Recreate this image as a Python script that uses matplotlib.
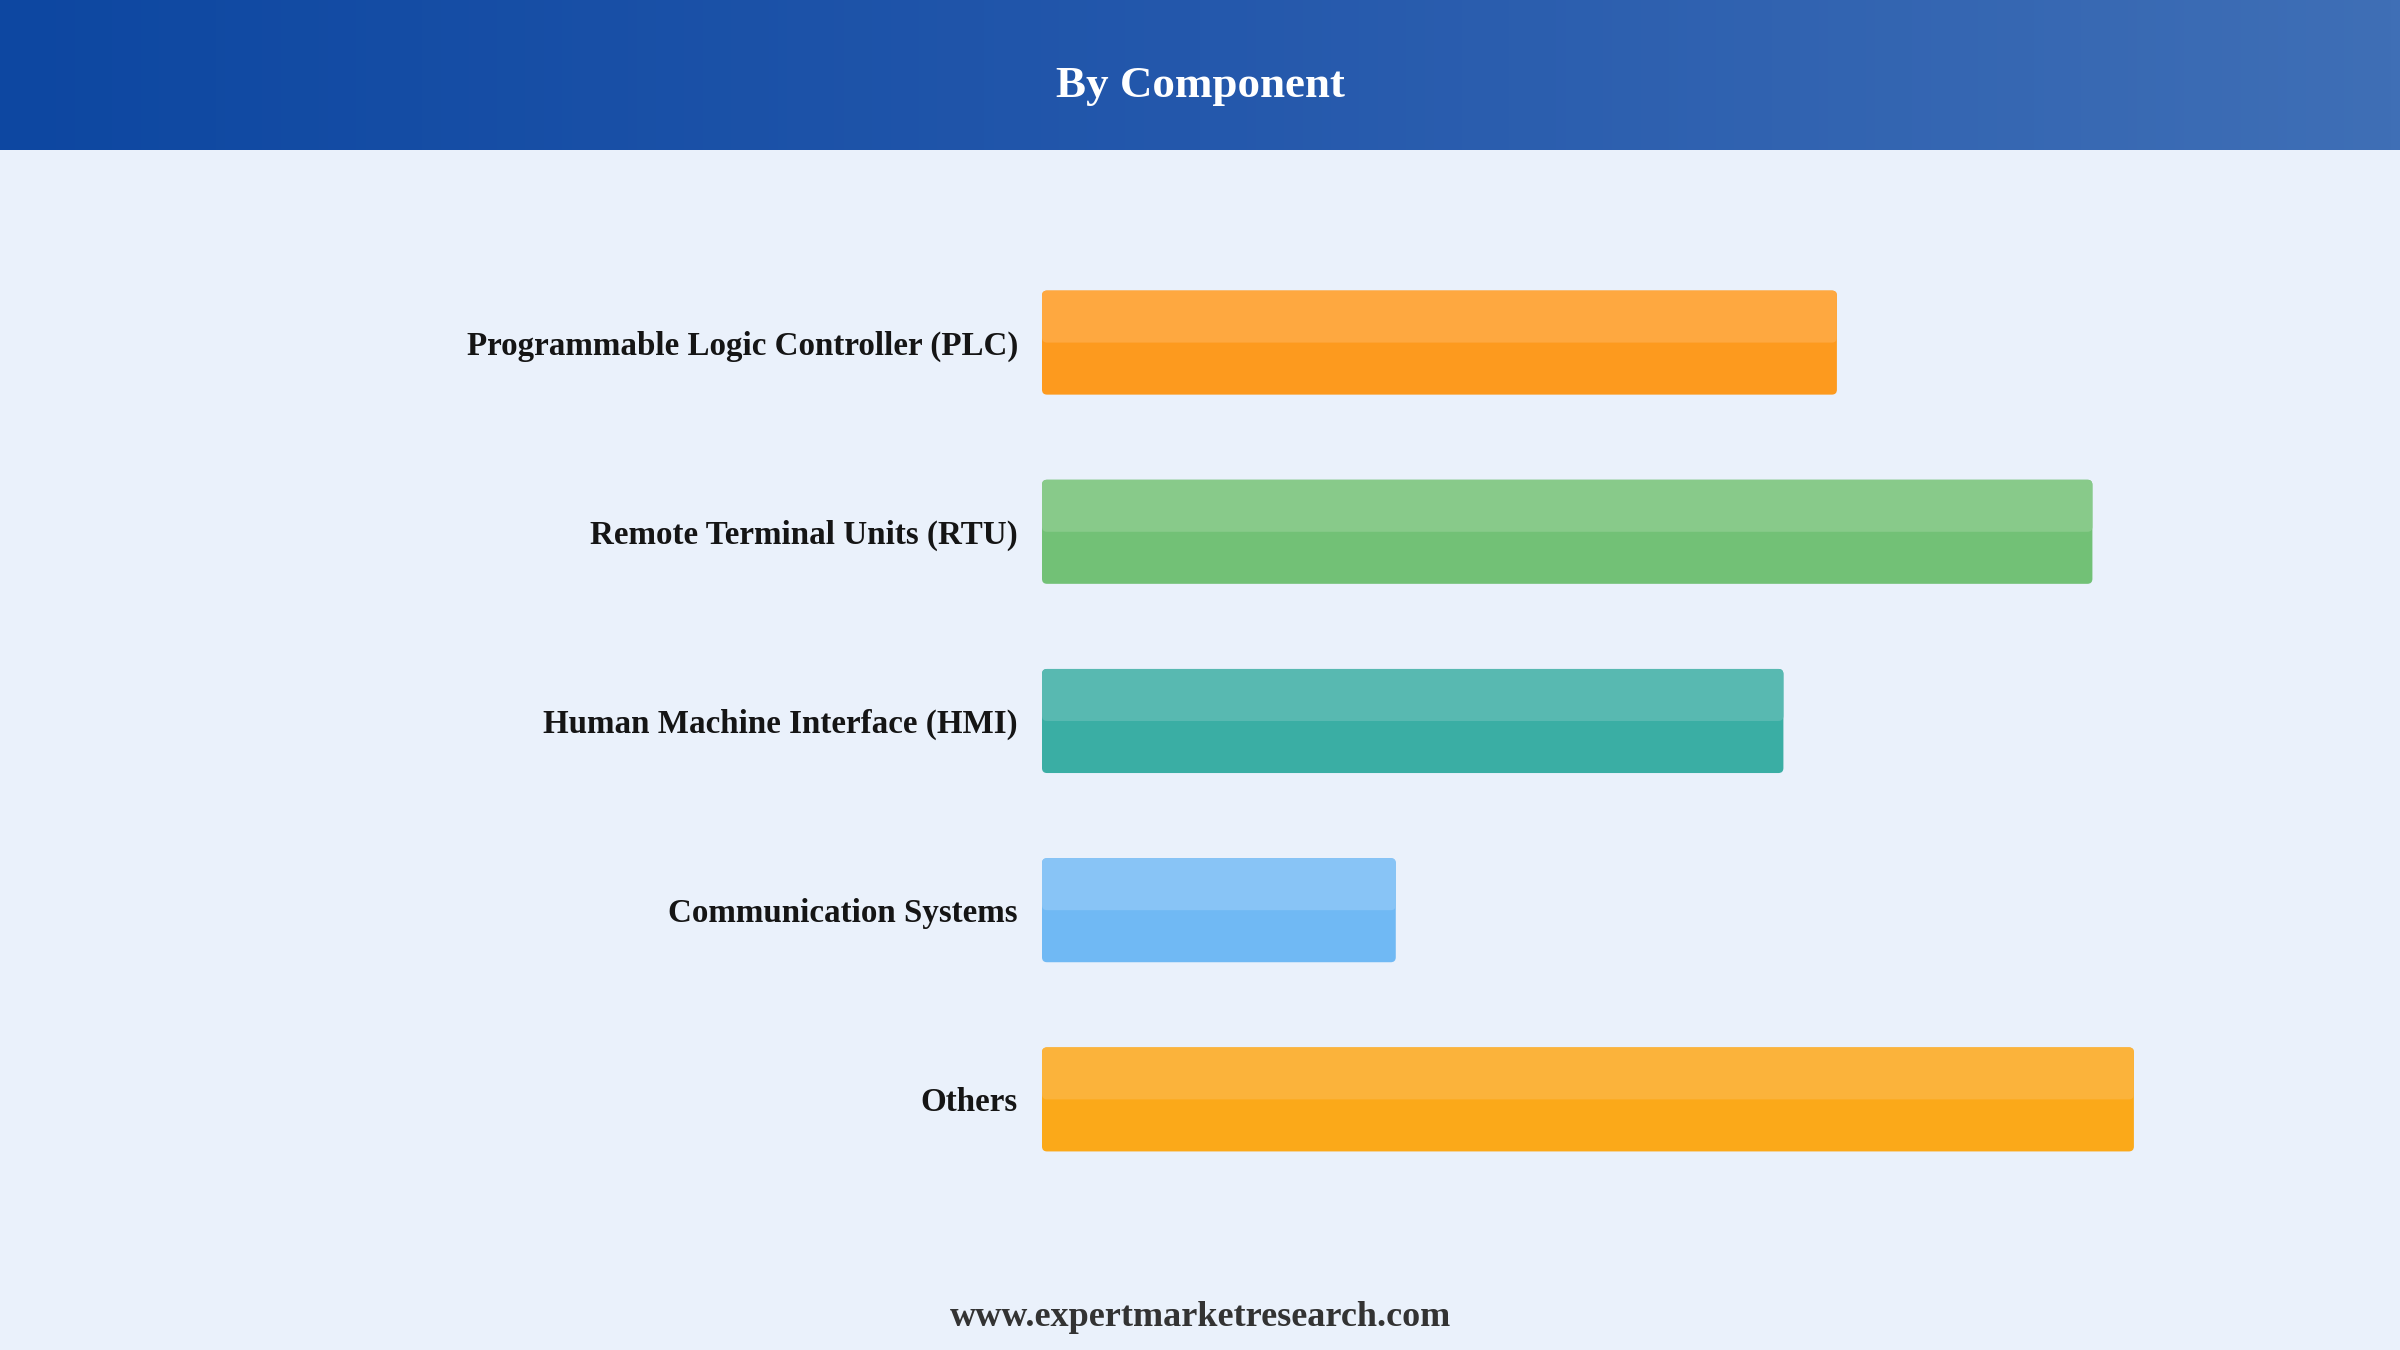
import matplotlib
matplotlib.use('Agg')
import matplotlib.pyplot as plt
from matplotlib.patches import FancyBboxPatch
from matplotlib.colors import LinearSegmentedColormap
import numpy as np

title = 'By Component'
categories = ['Programmable Logic Controller (PLC)', 'Remote Terminal Units (RTU)',
              'Human Machine Interface (HMI)', 'Communication Systems', 'Others']
# relative bar lengths (no axis shown)
values = [7.28, 9.62, 6.79, 3.24, 10.0]
base_colors = ['#FD9A1E', '#72C176', '#3AAEA4', '#70B9F4', '#FBA919']
top_colors = ['#FEA840', '#88CA8A', '#58B9B1', '#88C4F6', '#FBB33B']
footer = 'www.expertmarketresearch.com'

W, H = 2400, 1350
BG = '#EAF1FB'
SERIF = ['Liberation Serif', 'DejaVu Serif']

fig = plt.figure(figsize=(24, 13.5), dpi=100)
fig.patch.set_facecolor(BG)

# header band with horizontal gradient
hdr = fig.add_axes([0, 1 - 150 / H, 1, 150 / H])
cmap = LinearSegmentedColormap.from_list('hdr', ['#0D47A1', '#2458AC', '#3F6FB6'])
hdr.imshow(np.linspace(0, 1, 256)[None, :], aspect='auto', cmap=cmap,
           extent=[0, 1, 0, 1])
hdr.set_xlim(0, 1)
hdr.set_ylim(0, 1)
hdr.axis('off')
hdr.text(0.5, 0.43, title, ha='center', va='center', color='white',
         fontsize=32.4, fontweight='bold', family=SERIF)

# bar axes
left_px, right_px = 1042, 2242
top_px, bot_px = 248, 1194
ax = fig.add_axes([left_px / W, 1 - bot_px / H, (right_px - left_px) / W, (bot_px - top_px) / H])
ax.set_facecolor(BG)
xmax = 10.99
ax.set_xlim(0, xmax)
ax.set_ylim(len(categories) - 0.5, -0.5)
ax.axis('off')

bar_h = 0.55
bars = ax.barh(range(len(categories)), values, height=bar_h, color=base_colors)

# data units per pixel, for rounded corners
xu = xmax / (right_px - left_px)
yu = len(categories) / (bot_px - top_px)
aspect = yu / xu
r = 5 * xu

for i, b in enumerate(bars):
    x0, y0 = b.get_x(), b.get_y()
    w, h = b.get_width(), b.get_height()
    b.set_visible(False)
    ax.add_patch(FancyBboxPatch((x0, y0), w, h,
                                boxstyle='round,pad=0,rounding_size=%f' % r,
                                mutation_aspect=aspect, fc=base_colors[i], ec='none'))
    ax.add_patch(FancyBboxPatch((x0, y0), w, h / 2,
                                boxstyle='round,pad=0,rounding_size=%f' % r,
                                mutation_aspect=aspect, fc=top_colors[i], ec='none'))
    ax.text(-24 * xu, i + 3.5 * yu, categories[i], ha='right', va='center', color='#151515',
            fontsize=23.8, fontweight='bold', family=SERIF)

fig.text(0.5, 1 - 1317 / H, footer, ha='center', va='center', color='#333333',
         fontsize=26, fontweight='bold', family=SERIF)

fig.savefig('out.png', dpi=100, facecolor=BG)
